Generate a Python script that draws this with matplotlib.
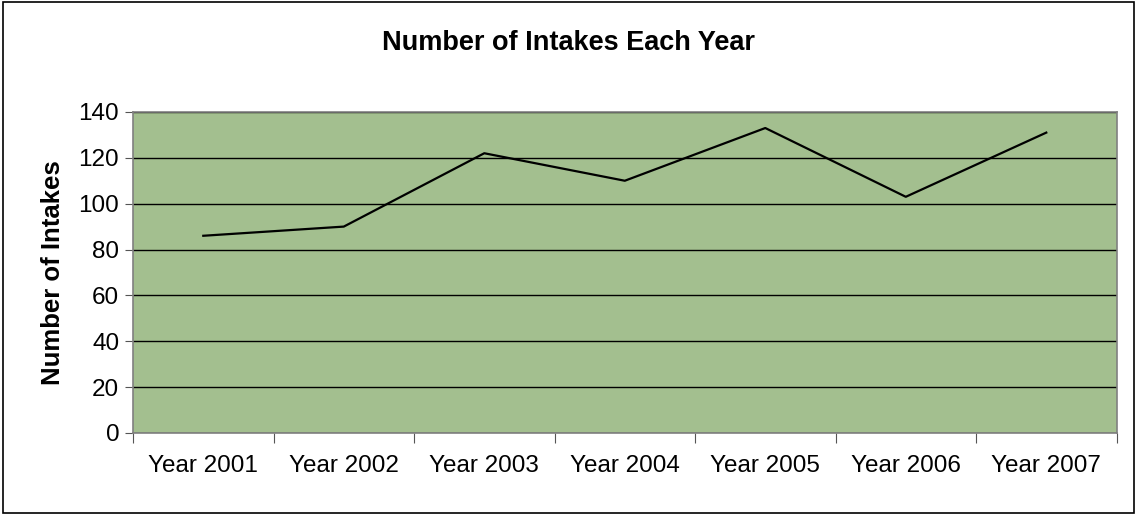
import numpy as np
import matplotlib.pyplot as plt
from matplotlib.patches import Rectangle

plt.rcParams['font.family'] = ['Liberation Sans', 'DejaVu Sans']

years = ['Year 2001', 'Year 2002', 'Year 2003', 'Year 2004', 'Year 2005', 'Year 2006', 'Year 2007']
intakes = [86, 90, 122, 110, 133, 103, 131]

fig = plt.figure(figsize=(11.37, 5.16), dpi=100)
ax = fig.add_axes([0.117, 0.161, 0.865, 0.622])
x = np.arange(len(years))
ax.plot(x, intakes, color='black', lw=1.6, zorder=3)

ax.set_facecolor('#a3bf8f')
ax.set_xlim(-0.5, len(years) - 0.5)
ax.set_ylim(0, 140)
ax.set_yticks(np.arange(0, 141, 20))
ax.yaxis.grid(True, color='black', lw=1)
ax.set_axisbelow(True)

# category ticks sit between categories, labels at centres
ax.set_xticks(np.arange(-0.5, len(years), 1))
ax.set_xticklabels([])
ax.set_xticks(x, minor=True)
ax.set_xticklabels(years, minor=True, fontsize=17.5)
ax.tick_params(axis='x', which='minor', length=0, pad=16)
ax.tick_params(axis='x', which='major', length=7, color='#555555', direction='out')
ax.tick_params(axis='y', length=6, color='#555555', labelsize=17.5, pad=4)

for s in ax.spines.values():
    s.set_color('#808080')
    s.set_linewidth(1.2)

ax.set_ylabel('Number of Intakes', fontsize=18.5, fontweight='bold', labelpad=10)
fig.text(0.5, 0.916, 'Number of Intakes Each Year', ha='center', va='center',
         fontsize=19.5, fontweight='bold')

fig.patches.append(Rectangle((0.003, 0.006), 0.994, 0.99, transform=fig.transFigure,
                             fill=False, edgecolor='black', lw=1.2))

fig.savefig('out.png', dpi=100)
